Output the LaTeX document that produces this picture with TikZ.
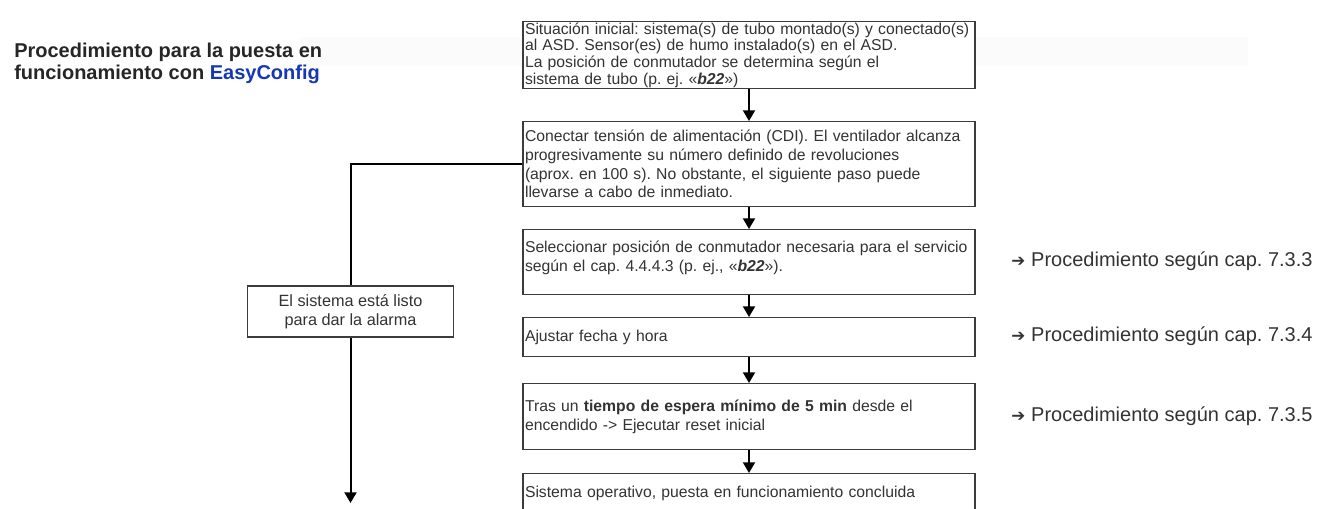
\documentclass[tikz,border=0pt]{standalone}
\usepackage{fontspec}
\setmainfont{Liberation Sans}
\newfontfamily\symfont{DejaVu Sans}
\usetikzlibrary{arrows.meta}
\definecolor{txtgray}{HTML}{333333}
\definecolor{linegray}{HTML}{3C3C3C}
\definecolor{easyblue}{HTML}{1538B0}
\frenchspacing

\begin{document}
\begin{tikzpicture}[x=.75pt,y=-.75pt,
  stepbox/.style={draw=linegray,line width=.9pt,fill=white,text=txtgray,anchor=north,
    text width=336pt,inner xsep=1.5pt,inner ysep=0pt,align=left,
    font=\fontsize{11.8}{14}\selectfont},
  flow/.style={-{Triangle[width=9pt,length=8pt]},line width=1.5pt,black},
  reflabel/.style={anchor=west,text=txtgray,inner sep=0pt,font=\fontsize{15}{18}\selectfont}]
\path[use as bounding box] (0,0) rectangle (1327,509);
\fill[black!1.5] (300,37) rectangle (1248,66);
\node[anchor=north west,inner sep=0pt,align=left,text=black!85,font=\bfseries\fontsize{15}{16}\selectfont] (title) at (14,43)
  {Procedimiento para la puesta en\\funcionamiento con \textcolor{easyblue}{EasyConfig}};

\node[stepbox,minimum height=50pt,font=\fontsize{11.8}{12.5}\selectfont] (s1) at (749,21)
  {Situación inicial: sistema(s) de tubo montado(s) y conectado(s)\\al ASD. Sensor(es) de humo instalado(s) en el ASD.\\La posición de conmutador se determina según el\\sistema de tubo (p. ej. «\textbf{\textit{b22}}»)};
\node[stepbox,minimum height=63.75pt] (s2) at (749,121)
  {Conectar tensión de alimentación (CDI). El ventilador alcanza\\progresivamente su número definido de revoluciones\\(aprox. en 100 s). No obstante, el siguiente paso puede\\llevarse a cabo de inmediato.};
\node[stepbox,minimum height=48.75pt] (s3) at (749,229)
  {Seleccionar posición de conmutador necesaria para el servicio\\según el cap. 4.4.4.3 (p. ej., «\textbf{\textit{b22}}»).\\[-5pt]\mbox{}};
\node[stepbox,minimum height=29.25pt] (s4) at (749,317) {Ajustar fecha y hora};
\node[stepbox,minimum height=49.5pt] (s5) at (749,383)
  {Tras un \textbf{tiempo de espera mínimo de 5 min} desde el\\encendido -> Ejecutar reset inicial};
\node[stepbox,minimum height=30pt] (s6) at (749,473) {Sistema operativo, puesta en funcionamiento concluida};

\node[draw=linegray,line width=.9pt,fill=white,text=txtgray,align=center,minimum width=155pt,minimum height=38.25pt,
  inner sep=0pt,font=\fontsize{12.2}{14}\selectfont] (alarm) at (350.5,311.5) {El sistema está listo\\para dar la alarma};
\coordinate (alarmend) at (350.5,503);

\draw[flow] (s1) -- (s2);
\draw[flow] (s2) -- (s3);
\draw[flow] (s3) -- (s4);
\draw[flow] (s4) -- (s5);
\draw[flow] (s5) -- (s6);
\draw[line width=1.5pt] (s2.west) -| (alarm.north);
\draw[flow] (alarm.south) -- (alarmend);

\node[reflabel] (ref3) at (1011,261.5) {{\symfont\fontsize{12.5}{13}\selectfont ➔}\hspace{4.5pt}Procedimiento según cap. 7.3.3};
\node[reflabel] (ref4) at (1011,336.5) {{\symfont\fontsize{12.5}{13}\selectfont ➔}\hspace{4.5pt}Procedimiento según cap. 7.3.4};
\node[reflabel] (ref5) at (1011,416) {{\symfont\fontsize{12.5}{13}\selectfont ➔}\hspace{4.5pt}Procedimiento según cap. 7.3.5};
\end{tikzpicture}
\end{document}
